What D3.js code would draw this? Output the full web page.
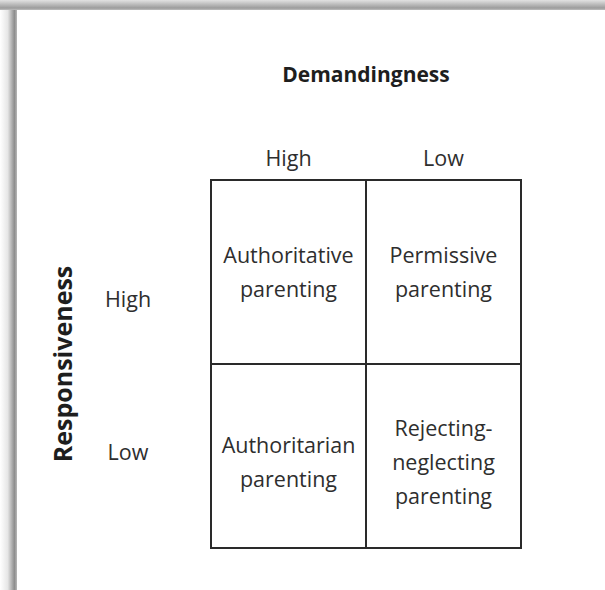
<!DOCTYPE html>
<html><head><meta charset="utf-8">
<script src="https://cdn.jsdelivr.net/npm/d3@7"></script>
<style>html,body{margin:0;padding:0;background:#fff;} svg{display:block;}</style>
</head><body>
<script>
// ---- data ----
const columnTitle = "Demandingness";
const rowTitle = "Responsiveness";
const columns = ["High", "Low"];          // demandingness levels
const rows = ["High", "Low"];             // responsiveness levels
const cellLabels = [
  ["Authoritative", "parenting"],
  ["Permissive", "parenting"],
  ["Authoritarian", "parenting"],
  ["Rejecting-", "neglecting", "parenting"]
];

const W = 605, H = 590;
const svg = d3.select("body").append("svg").attr("width", W).attr("height", H);
const defs = svg.append("defs");

// page shadow frame
const gTop = defs.append("linearGradient").attr("id","gt").attr("x1",0).attr("y1",0).attr("x2",0).attr("y2",1);
gTop.append("stop").attr("offset","0%").attr("stop-color","#e2e2e2");
gTop.append("stop").attr("offset","80%").attr("stop-color","#9c9c9c");
gTop.append("stop").attr("offset","100%").attr("stop-color","#bdbdbd");
const gLeft = defs.append("linearGradient").attr("id","gl").attr("x1",0).attr("y1",0).attr("x2",1).attr("y2",0);
gLeft.append("stop").attr("offset","0%").attr("stop-color","#ffffff");
gLeft.append("stop").attr("offset","45%").attr("stop-color","#e6e6e6");
gLeft.append("stop").attr("offset","85%").attr("stop-color","#8e8e8e");
gLeft.append("stop").attr("offset","100%").attr("stop-color","#b8b8b8");
svg.append("rect").attr("x",0).attr("y",0).attr("width",17).attr("height",H).attr("fill","url(#gl)");
svg.append("rect").attr("x",0).attr("y",0).attr("width",W).attr("height",10).attr("fill","url(#gt)");

// scales
const x = d3.scaleBand().domain(columns).range([211, 521]);
const y = d3.scaleBand().domain(rows).range([180, 548]);

const font = "'Open Sans', 'Noto Sans', sans-serif";
const ink = "#2e2e2e";
const fs = 21.5;

// titles
svg.append("text").attr("x", (x.range()[0]+x.range()[1])/2).attr("y", 82)
  .attr("text-anchor","middle").attr("font-family",font).attr("font-weight","bold")
  .attr("font-size",21).attr("fill","#1e1e1e").text(columnTitle);

svg.append("text").attr("transform",`translate(72,${(y.range()[0]+y.range()[1])/2}) rotate(-90)`)
  .attr("text-anchor","middle").attr("font-family",font).attr("font-weight","bold")
  .attr("font-size",25).attr("fill","#1e1e1e").text(rowTitle);

// column headers
svg.selectAll("text.colh").data(columns).join("text").attr("class","colh")
  .attr("x", d => x(d) + x.bandwidth()/2).attr("y", 166)
  .attr("text-anchor","middle").attr("font-family",font).attr("font-size",fs)
  .attr("fill",ink).text(d => d);

// row headers
const rowLabelPos = {High: 0.69, Low: 0.52};
svg.selectAll("text.rowh").data(rows).join("text").attr("class","rowh")
  .attr("x", 128).attr("y", d => y(d) + y.bandwidth()*rowLabelPos[d])
  .attr("text-anchor","middle").attr("font-family",font).attr("font-size",fs)
  .attr("fill",ink).text(d => d);

// cells
const cells = [];
rows.forEach((r, i) => columns.forEach((c, j) => cells.push({r, c, lines: cellLabels[i*2+j]})));

const lineH = 34;
const cg = svg.selectAll("g.cell").data(cells).join("g").attr("class","cell");
cg.append("rect")
  .attr("x", d => x(d.c)).attr("y", d => y(d.r))
  .attr("width", x.bandwidth()).attr("height", y.bandwidth())
  .attr("fill","none").attr("stroke","#2a2a2a").attr("stroke-width",2);
cg.each(function(d){
  const cx = x(d.c) + x.bandwidth()/2;
  const cy = y(d.r) + y.bandwidth()/2 + (d.r === "Low" ? 6 : 0);
  const n = d.lines.length;
  d3.select(this).selectAll("text").data(d.lines).join("text")
    .attr("x", cx).attr("y", (t,k) => cy + (k - (n-1)/2)*lineH + 7.5)
    .attr("text-anchor","middle").attr("font-family",font).attr("font-size",fs)
    .attr("fill",ink).text(t => t);
});
</script>
</body></html>
